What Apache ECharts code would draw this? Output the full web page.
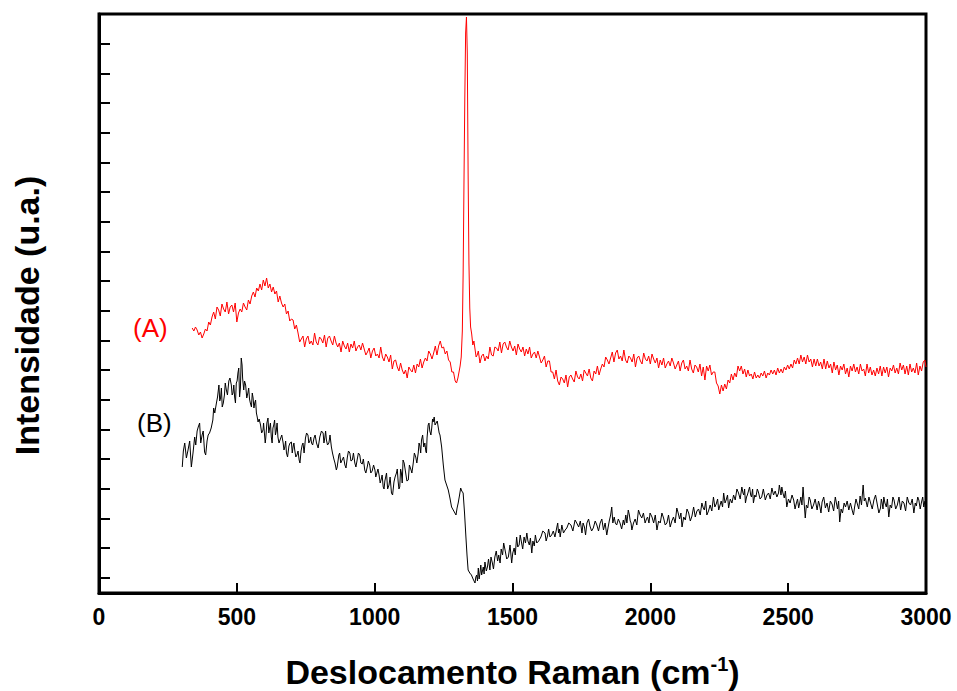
<!DOCTYPE html>
<html>
<head>
<meta charset="utf-8">
<script src="https://cdn.jsdelivr.net/npm/echarts@6/dist/echarts.min.js"></script>
<style>
html,body{margin:0;padding:0;background:#fff;}
#chart{width:957px;height:691px;}
</style>
</head>
<body>
<div id="chart"></div>
<script>
// Raman shift (cm-1) / intensity (u.a.) pairs
var spectrumA = [[338,265],[344,262],[350,266],[356,263],[362,258],[368,261],[374,255],[380,259],[386,264],[392,262],[398,271],[404,268],[410,276],[416,281],[422,274],[428,286],[434,283],[440,277],[446,289],[452,284],[458,281],[464,291],[470,279],[476,286],[482,288],[488,281],[494,290],[500,271],[506,280],[512,284],[518,281],[524,290],[530,286],[536,283],[542,293],[548,289],[554,297],[560,301],[566,296],[572,305],[578,302],[584,309],[590,303],[596,313],[602,307],[608,315],[614,305],[620,309],[626,301],[632,306],[638,299],[644,302],[650,291],[656,297],[662,290],[668,286],[674,289],[680,279],[686,282],[692,272],[698,274],[704,273],[710,264],[716,268],[722,260],[728,251],[734,254],[740,257],[746,246],[752,254],[758,257],[764,249],[770,252],[776,248],[782,260],[788,251],[794,248],[800,256],[806,254],[812,250],[818,258],[824,246],[830,255],[836,257],[842,252],[848,248],[854,257],[860,250],[866,246],[872,250],[878,241],[884,252],[890,247],[896,244],[902,250],[908,241],[914,249],[920,245],[926,252],[932,242],[938,246],[944,248],[950,243],[956,250],[962,244],[968,238],[974,241],[980,245],[986,235],[992,242],[998,245],[1004,237],[1010,239],[1016,235],[1022,246],[1028,236],[1034,232],[1040,239],[1046,236],[1052,231],[1058,238],[1064,224],[1070,232],[1076,233],[1082,226],[1088,222],[1094,230],[1100,223],[1106,219],[1112,223],[1118,215],[1124,226],[1130,223],[1136,221],[1142,228],[1148,220],[1154,229],[1160,226],[1166,234],[1172,225],[1178,231],[1184,235],[1190,232],[1196,242],[1202,239],[1208,234],[1214,240],[1220,247],[1226,238],[1232,247],[1238,252],[1244,245],[1250,246],[1256,239],[1262,242],[1268,233],[1274,231],[1280,221],[1286,221],[1292,212],[1297,210],[1302,215],[1306,221],[1310,227],[1314,236],[1318,262],[1321,320],[1324,410],[1327,495],[1330,560],[1333,576],[1336,540],[1339,420],[1342,330],[1345,285],[1348,266],[1352,259],[1356,248],[1360,252],[1364,244],[1368,236],[1372,238],[1376,242],[1382,230],[1388,237],[1394,239],[1400,232],[1406,237],[1412,234],[1418,246],[1424,238],[1430,237],[1436,246],[1442,245],[1448,242],[1454,251],[1460,240],[1466,249],[1472,251],[1478,246],[1484,243],[1490,252],[1496,246],[1502,242],[1508,247],[1514,238],[1520,249],[1526,244],[1532,241],[1538,246],[1544,237],[1550,244],[1556,239],[1562,246],[1568,235],[1574,239],[1580,241],[1586,235],[1592,242],[1598,236],[1604,230],[1610,233],[1616,237],[1622,226],[1628,232],[1634,232],[1640,221],[1646,221],[1652,214],[1658,223],[1664,212],[1670,208],[1676,216],[1682,214],[1688,210],[1694,218],[1700,206],[1706,216],[1712,218],[1718,214],[1724,211],[1730,222],[1736,216],[1742,214],[1748,219],[1754,212],[1760,223],[1766,220],[1772,217],[1778,224],[1784,215],[1790,212],[1796,222],[1802,219],[1808,227],[1814,218],[1820,224],[1826,229],[1832,226],[1838,236],[1844,233],[1850,229],[1856,235],[1862,241],[1868,231],[1874,240],[1880,243],[1886,234],[1892,237],[1898,232],[1904,243],[1910,233],[1916,230],[1922,237],[1928,235],[1934,231],[1940,239],[1946,226],[1952,235],[1958,237],[1964,232],[1970,229],[1976,240],[1982,234],[1988,232],[1994,237],[2000,229],[2006,239],[2012,234],[2018,230],[2024,235],[2030,225],[2036,233],[2042,228],[2048,235],[2054,225],[2060,229],[2066,232],[2072,227],[2078,235],[2084,230],[2090,224],[2096,228],[2102,232],[2108,222],[2114,230],[2120,233],[2126,224],[2132,227],[2138,222],[2144,233],[2150,224],[2156,220],[2162,228],[2168,226],[2174,221],[2180,229],[2186,217],[2192,226],[2198,213],[2204,227],[2210,222],[2216,228],[2222,218],[2228,221],[2234,221],[2240,210],[2246,207],[2252,199],[2258,208],[2264,202],[2270,209],[2276,204],[2282,213],[2288,210],[2294,219],[2300,213],[2306,220],[2312,216],[2318,227],[2324,222],[2330,227],[2336,219],[2342,224],[2348,216],[2354,223],[2360,217],[2366,219],[2372,214],[2378,221],[2384,215],[2390,218],[2396,215],[2402,220],[2408,217],[2414,222],[2420,215],[2426,220],[2432,218],[2438,223],[2444,219],[2450,223],[2456,218],[2462,225],[2468,220],[2474,224],[2480,220],[2486,226],[2492,223],[2498,228],[2504,224],[2510,229],[2516,225],[2522,233],[2528,229],[2534,235],[2540,229],[2546,238],[2552,231],[2558,236],[2564,229],[2570,238],[2576,231],[2582,234],[2588,226],[2594,234],[2600,227],[2606,234],[2612,227],[2618,231],[2624,224],[2630,234],[2636,224],[2642,232],[2648,225],[2654,229],[2660,220],[2666,231],[2672,223],[2678,228],[2684,218],[2690,227],[2696,223],[2702,229],[2708,219],[2714,225],[2720,216],[2726,227],[2732,222],[2738,229],[2744,221],[2750,226],[2756,219],[2762,229],[2768,222],[2774,224],[2780,217],[2786,229],[2792,220],[2798,226],[2804,218],[2810,223],[2816,217],[2822,225],[2828,219],[2834,227],[2840,217],[2846,226],[2852,220],[2858,226],[2864,216],[2870,225],[2876,222],[2882,228],[2888,220],[2894,225],[2900,219],[2906,230],[2912,223],[2918,228],[2924,219],[2930,227],[2936,218],[2942,229],[2948,221],[2954,225],[2960,220],[2966,230],[2972,218],[2978,227],[2984,222],[2990,231],[2996,233],[3000,226]];

var spectrumB = [[302,126],[306,142],[311,150],[317,135],[323,143],[329,152],[335,126],[341,140],[347,156],[351,148],[356,162],[360,166],[365,170],[369,150],[374,158],[378,162],[383,141],[387,138],[392,152],[396,158],[401,160],[407,165],[413,173],[416,185],[420,180],[426,190],[430,196],[435,208],[438,192],[441,195],[444,205],[447,186],[451,190],[455,198],[458,210],[462,203],[466,198],[471,212],[475,215],[480,208],[483,198],[486,200],[489,208],[492,196],[495,190],[498,210],[501,212],[504,220],[507,225],[510,196],[513,205],[516,235],[519,228],[521,215],[525,203],[528,212],[532,208],[536,195],[540,200],[543,205],[546,194],[549,190],[553,186],[556,200],[559,195],[562,185],[565,190],[568,193],[571,180],[574,176],[577,171],[581,174],[586,168],[590,160],[595,163],[597,170],[600,160],[603,150],[605,155],[609,170],[613,175],[616,160],[619,165],[622,170],[625,156],[628,150],[631,165],[634,168],[637,173],[640,158],[643,162],[646,170],[649,156],[653,150],[658,154],[663,158],[668,150],[671,143],[674,146],[677,152],[680,140],[684,136],[689,147],[693,150],[698,151],[701,140],[704,146],[707,150],[710,143],[714,136],[718,138],[722,142],[726,133],[729,130],[733,142],[737,148],[740,150],[744,140],[749,155],[753,160],[758,158],[761,150],[765,152],[768,156],[771,150],[775,148],[780,155],[784,158],[789,150],[795,145],[801,156],[807,162],[813,160],[816,150],[819,155],[822,162],[825,153],[829,148],[834,150],[838,158],[843,146],[847,140],[852,134],[856,130],[861,123],[864,126],[867,132],[870,138],[873,140],[877,130],[882,133],[887,136],[892,128],[896,125],[901,136],[905,142],[910,140],[914,132],[919,133],[923,140],[928,130],[932,126],[937,134],[941,140],[946,138],[950,130],[955,129],[959,134],[964,123],[968,120],[973,126],[977,132],[982,128],[986,120],[991,122],[996,128],[1001,123],[1004,116],[1008,120],[1012,124],[1016,118],[1020,110],[1024,114],[1027,118],[1031,106],[1034,104],[1037,112],[1040,116],[1043,120],[1047,104],[1052,108],[1056,116],[1061,100],[1065,98],[1070,111],[1074,116],[1079,120],[1082,124],[1085,112],[1088,104],[1091,106],[1094,124],[1097,120],[1100,110],[1103,133],[1107,130],[1112,121],[1117,112],[1122,113],[1126,128],[1131,124],[1135,120],[1140,130],[1144,140],[1149,136],[1153,130],[1158,140],[1161,150],[1164,147],[1167,140],[1170,153],[1174,158],[1178,146],[1182,150],[1186,141],[1188,140],[1190,155],[1194,168],[1197,170],[1200,162],[1204,158],[1207,165],[1210,174],[1212,171],[1216,176],[1219,168],[1223,170],[1227,172],[1231,165],[1234,160],[1237,158],[1243,146],[1249,128],[1255,113],[1261,108],[1267,103],[1273,95],[1279,86],[1287,82],[1295,78],[1299,85],[1303,90],[1308,98],[1312,105],[1316,102],[1321,100],[1326,80],[1331,56],[1335,38],[1339,23],[1345,20],[1351,18],[1357,14],[1364,10],[1367,16],[1370,18],[1373,12],[1376,25],[1379,14],[1382,20],[1385,28],[1388,18],[1391,22],[1394,26],[1397,19],[1400,31],[1405,22],[1409,26],[1413,34],[1418,23],[1422,36],[1427,30],[1431,24],[1436,36],[1441,42],[1446,32],[1450,38],[1455,30],[1459,44],[1464,38],[1468,50],[1473,43],[1479,34],[1485,36],[1491,48],[1497,30],[1501,40],[1506,45],[1510,38],[1515,56],[1519,46],[1524,48],[1528,58],[1533,50],[1537,44],[1542,56],[1547,50],[1552,60],[1556,52],[1561,48],[1565,55],[1570,40],[1574,52],[1579,47],[1583,58],[1588,50],[1595,52],[1603,56],[1610,62],[1618,60],[1622,52],[1627,57],[1631,64],[1636,56],[1642,58],[1648,62],[1654,56],[1661,66],[1664,70],[1667,60],[1670,64],[1673,56],[1679,68],[1685,60],[1691,63],[1697,65],[1704,70],[1712,68],[1719,62],[1727,73],[1733,70],[1740,66],[1746,72],[1752,60],[1756,70],[1761,66],[1765,58],[1770,70],[1776,74],[1781,67],[1787,62],[1793,65],[1800,72],[1806,68],[1812,62],[1818,70],[1824,74],[1830,63],[1836,70],[1842,58],[1847,66],[1851,72],[1856,78],[1860,86],[1864,70],[1869,76],[1873,70],[1878,68],[1884,74],[1890,70],[1896,64],[1902,73],[1906,68],[1911,78],[1915,70],[1920,83],[1924,78],[1927,72],[1930,70],[1933,63],[1939,70],[1945,74],[1951,68],[1957,83],[1963,78],[1969,75],[1975,80],[1981,70],[1986,74],[1990,76],[1995,70],[1999,80],[2006,76],[2012,70],[2018,78],[2024,63],[2030,72],[2036,70],[2042,80],[2048,75],[2054,68],[2060,70],[2066,78],[2072,66],[2078,72],[2084,76],[2090,70],[2096,85],[2101,80],[2106,74],[2111,80],[2115,66],[2121,76],[2127,73],[2133,84],[2139,80],[2145,72],[2151,77],[2157,86],[2163,76],[2169,82],[2175,84],[2181,78],[2187,90],[2192,85],[2196,83],[2201,92],[2205,78],[2211,82],[2217,88],[2223,82],[2229,96],[2234,86],[2239,89],[2244,94],[2248,83],[2253,88],[2257,92],[2262,86],[2266,100],[2271,90],[2275,93],[2280,98],[2284,85],[2290,94],[2296,90],[2302,98],[2308,93],[2314,104],[2320,100],[2326,94],[2332,106],[2336,100],[2339,98],[2342,104],[2345,90],[2349,96],[2352,98],[2356,102],[2360,106],[2364,98],[2367,96],[2371,104],[2374,90],[2379,98],[2383,96],[2388,104],[2392,101],[2398,94],[2404,96],[2410,104],[2417,93],[2423,98],[2429,100],[2435,94],[2441,105],[2447,98],[2453,102],[2459,96],[2465,100],[2468,108],[2471,103],[2474,98],[2477,106],[2481,100],[2486,95],[2490,102],[2495,86],[2501,94],[2507,90],[2514,98],[2520,93],[2525,84],[2529,89],[2534,94],[2538,85],[2542,90],[2546,96],[2550,88],[2554,106],[2558,90],[2562,75],[2566,88],[2571,85],[2576,96],[2580,93],[2586,84],[2592,88],[2598,94],[2605,83],[2610,92],[2614,88],[2619,80],[2623,91],[2629,96],[2635,85],[2641,90],[2647,81],[2653,92],[2659,89],[2665,82],[2671,96],[2675,90],[2679,84],[2683,92],[2687,71],[2692,84],[2697,80],[2703,90],[2708,86],[2714,92],[2720,83],[2726,90],[2732,83],[2737,78],[2741,86],[2746,94],[2750,90],[2756,84],[2761,97],[2766,88],[2772,108],[2776,92],[2780,95],[2784,90],[2787,86],[2793,96],[2799,90],[2805,84],[2811,93],[2817,98],[2823,89],[2829,80],[2835,85],[2838,94],[2841,90],[2844,84],[2847,96],[2851,90],[2856,86],[2860,94],[2865,76],[2870,88],[2875,85],[2880,96],[2884,93],[2890,84],[2896,88],[2902,96],[2908,83],[2914,92],[2920,90],[2926,82],[2932,96],[2938,90],[2944,88],[2950,94],[2956,80],[2961,90],[2965,87],[2970,96],[2974,93],[2979,84],[2983,90],[2988,96],[2992,86],[2996,92],[3000,93]];

var seriesNames = ['(A)', '(B)'];
var xTitle = 'Deslocamento Raman (cm{sup|-1})';
var yTitle = 'Intensidade (u.a.)';

var font = '"Liberation Sans", Arial, sans-serif';
var chart = echarts.init(document.getElementById('chart'), null, {renderer: 'svg'});
chart.setOption({
  animation: false,
  backgroundColor: '#fff',
  grid: {left: 99, right: 31, top: 14, bottom: 98, show: true, borderColor: '#000', borderWidth: 3,
         backgroundColor: 'transparent', containLabel: false, outerBoundsMode: 'none'},
  xAxis: {
    type: 'value', min: 0, max: 3000, interval: 500,
    axisLine: {lineStyle: {color: '#000', width: 3}},
    axisTick: {inside: true, length: 10, lineStyle: {color: '#000', width: 2}},
    axisLabel: {color: '#000', fontSize: 23, fontWeight: 'bold', fontFamily: font, margin: 12,
                formatter: function (v) { return String(v); }},
    splitLine: {show: false},
    name: xTitle, nameLocation: 'middle', nameGap: 61,
    nameTextStyle: {color: '#000', fontSize: 34, fontWeight: 'bold', fontFamily: font,
      rich: {sup: {fontSize: 20, fontWeight: 'bold', fontFamily: font, color: '#000', verticalAlign: 'top', padding: [0, 0, 15, 0]}}}
  },
  yAxis: [{
    type: 'value', min: 0, max: 579, show: false, position: 'left'
  }, {
    type: 'value', position: 'left', offset: 0, inverse: true, min: 0, max: 19.51, interval: 1,
    axisLine: {show: true, lineStyle: {color: '#000', width: 3}},
    axisTick: {inside: true, length: 11, lineStyle: {color: '#000', width: 2}},
    axisLabel: {show: false},
    splitLine: {show: false},
    name: yTitle, nameLocation: 'middle', nameGap: 55, nameRotate: 90,
    nameTextStyle: {color: '#000', fontSize: 34, fontWeight: 'bold', fontFamily: font, padding: [0, 24, 0, 0]}
  }],
  series: [{
    name: seriesNames[0], type: 'line', data: spectrumA, yAxisIndex: 0,
    showSymbol: false, symbol: 'none', lineStyle: {color: '#ff0000', width: 1}, z: 3
  }, {
    name: seriesNames[1], type: 'line', data: spectrumB, yAxisIndex: 0,
    showSymbol: false, symbol: 'none', lineStyle: {color: '#000', width: 1}, z: 2
  }],
  graphic: [
    {type: 'text', left: 133, top: 315, style: {text: seriesNames[0], fill: '#ff0000', fontSize: 26, fontFamily: font}},
    {type: 'text', left: 137, top: 410, style: {text: seriesNames[1], fill: '#000', fontSize: 26, fontFamily: font}}
  ]
});
</script>
</body>
</html>
